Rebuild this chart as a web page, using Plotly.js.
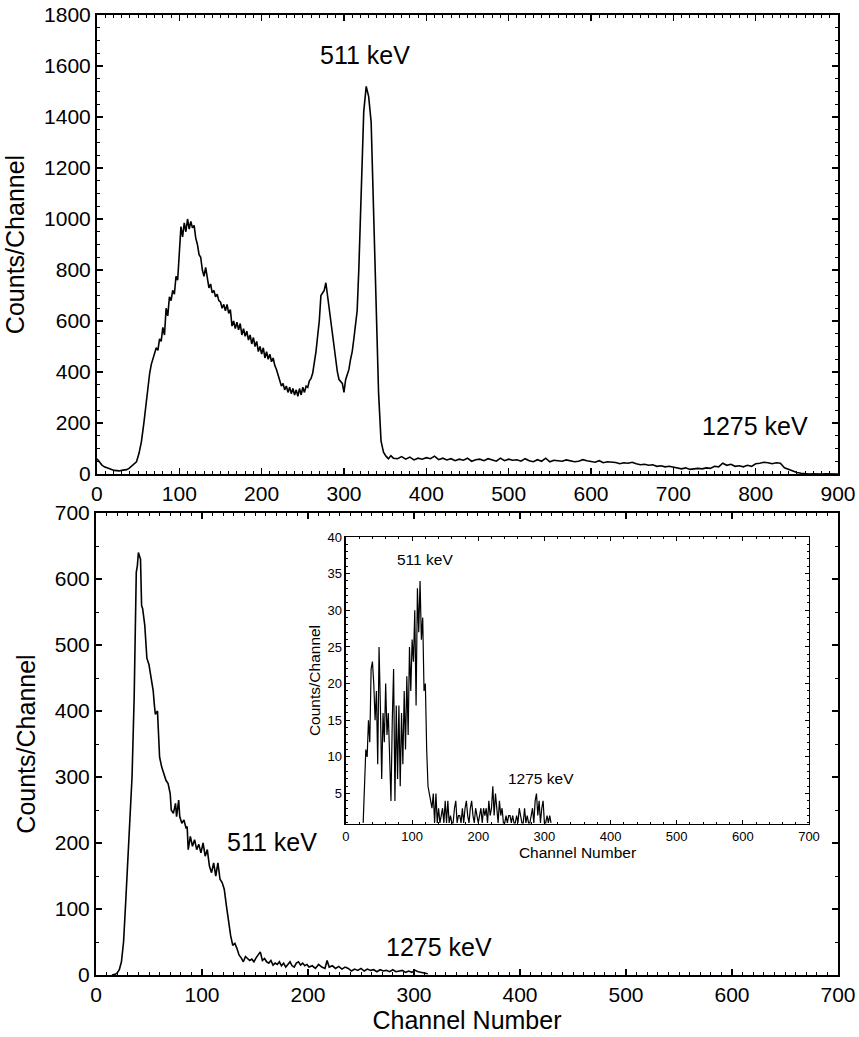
<!DOCTYPE html>
<html>
<head>
<meta charset="utf-8">
<script src="https://cdn.plot.ly/plotly-3.0.1.min.js"></script>
<style>
html,body{margin:0;padding:0;background:#fff;}
#chart{width:859px;height:1037px;}
</style>
</head>
<body>
<div id="chart"></div>
<script>
// ---- Top spectrum (full energy range) ----
const topChannels = [0,3,6,9,12,15,18,21,24,27,30,33,36,39,42,45,48,51,54,57,
60,62,64,66,68,70,72,74,76,78,80,82,84,86,88,90,92,94,96,98,100,102,104,106,108,110,112,114,116,118,120,122,124,126,128,130,132,134,136,138,140,142,144,146,148,150,152,154,156,158,160,162,164,166,168,170,172,174,176,178,180,182,184,186,188,190,192,194,196,198,200,202,204,206,208,210,212,214,216,218,220,222,224,226,228,230,232,234,236,238,240,242,244,246,248,250,252,254,256,258,260,262,264,266,268,270,272,274,276,278,280,282,284,286,288,290,292,294,296,298,300,302,304,306,308,310,312,314,316,318,
321,324,327,330,333,336,339,342,345,348,351,354,357,360,
365,370,375,380,385,390,395,400,405,410,415,420,425,430,435,440,445,450,455,460,465,470,475,480,485,490,495,500,505,510,515,520,525,530,535,540,545,550,555,560,565,570,575,580,585,590,595,600,605,610,615,620,625,630,635,640,645,650,655,660,665,670,675,680,685,690,695,700,705,710,715,720,725,730,735,740,745,750,755,760,765,770,775,780,785,790,795,800,805,810,815,820,825,830,835,840,845,850,855,860,865,870,875,880,885,890,895,900];
const topCounts = [60,45,35,28,24,20,16,14,13,12,14,15,17,22,30,38,48,80,127,200,
290,345,395,430,455,470,495,485,530,520,575,545,650,620,695,680,720,705,775,760,850,970,930,985,950,1000,960,990,965,975,925,900,860,850,800,775,810,760,730,745,710,720,695,705,680,675,650,665,640,665,630,645,580,600,570,595,565,590,545,570,540,560,525,545,510,535,500,520,480,500,470,495,455,480,450,470,440,455,425,410,385,370,345,355,330,345,320,340,315,335,310,330,305,335,310,340,320,345,340,365,375,395,430,480,540,600,700,710,720,750,700,650,610,560,500,440,400,370,360,355,320,370,390,410,450,480,530,580,640,800,
1150,1420,1520,1480,1380,1050,650,320,130,85,70,60,72,62,
60,68,58,66,55,62,58,64,60,70,56,62,55,60,52,58,54,62,50,56,58,52,60,55,50,62,52,58,54,56,50,60,52,48,56,50,62,48,54,52,50,55,52,48,50,56,52,50,46,52,44,48,46,45,40,44,42,46,40,36,38,34,36,30,32,28,30,26,22,20,24,18,20,22,20,24,22,30,28,42,34,38,30,32,28,34,30,40,42,46,44,40,44,42,24,18,10,6,3,1,0,1,0,0,1,0,0,0];

// ---- Bottom spectrum ----
const bottomChannels = [15,18,20,22,24,26,28,30,32,34,36,38,39,40,41,42,43,44,46,47,48,50,52,54,55,56,58,59,60,62,64,66,68,70,71,73,75,76,78,79,81,83,85,86,87,89,91,93,95,97,99,101,103,105,107,109,111,113,115,117,119,121,123,125,127,129,131,133,135,137,139,141,143,145,147,149,151,153,155,157,159,161,163,165,167,169,171,173,175,177,179,181,183,185,187,189,191,193,195,197,199,201,204,207,210,213,216,218,220,223,226,229,232,235,238,241,244,247,250,253,256,259,262,265,268,271,274,277,280,283,286,289,292,295,298,301,304,307,310,313];
const bottomCounts = [0,1,3,8,20,50,110,175,250,300,420,610,620,640,635,630,560,555,530,500,480,470,450,430,410,395,400,350,330,315,305,295,290,275,250,245,260,240,265,240,230,235,222,225,190,210,195,205,190,198,185,200,180,190,165,155,170,150,170,145,140,130,105,80,60,45,48,40,30,26,20,28,25,22,24,20,26,30,35,22,25,20,18,22,15,18,16,20,14,18,12,16,20,14,12,18,20,15,18,14,16,12,14,10,16,12,10,22,12,14,10,13,9,12,10,6,9,7,10,6,9,7,8,5,8,6,7,5,8,5,6,7,4,6,4,7,5,4,3,2];

// ---- Inset spectrum ----
const insetChannels = [26,28,30,32,34,36,38,40,42,44,46,48,50,52,54,56,58,60,62,64,66,68,70,72,74,76,78,80,82,84,86,88,90,92,94,96,98,100,102,104,106,108,110,112,114,116,118,120,122,124,126,128,130,132,134,136,138,140,142,144,146,148,150,152,154,156,158,160,162,164,166,168,170,172,174,176,178,180,182,184,186,188,190,192,194,196,198,200,202,204,206,208,210,212,214,216,218,220,222,224,226,228,230,232,234,236,238,240,242,244,246,248,250,252,254,256,258,260,262,264,266,268,270,272,274,276,278,280,282,284,286,288,290,292,294,296,298,300,302,304,306,308,310];
const insetCounts = [1,5,11,10,15,12,22,23,20,15,19,9,25,17,7,16,12,20,13,16,9,4,15,22,4,17,7,17,6,16,9,19,11,21,13,25,19,26,23,30,17,33,27,34,26,29,19,20,11,6,5,4,3,5,1,5,1,3,1,2,3,1,4,1,4,1,2,1,1,3,4,1,2,2,1,3,1,3,4,2,1,3,4,2,1,3,2,1,2,3,1,3,2,3,1,4,2,3,6,2,5,3,1,4,2,3,1,1,2,1,2,2,1,2,1,1,2,1,3,2,1,1,3,1,2,1,1,2,3,1,4,5,2,4,1,3,4,1,1,2,1,2,1];

// ---- Labels ----
const peakLabels = ["511 keV", "1275 keV"];
const yTitle = "Counts/Channel";
const xTitle = "Channel Number";

const FONT = "Liberation Sans, Arial, Helvetica, sans-serif";

const traces = [
  {x: topChannels, y: topCounts, xaxis: 'x', yaxis: 'y', type: 'scatter', mode: 'lines',
   line: {color: '#000', width: 1.6}, hoverinfo: 'skip'},
  {x: bottomChannels, y: bottomCounts, xaxis: 'x2', yaxis: 'y2', type: 'scatter', mode: 'lines',
   line: {color: '#000', width: 1.6}, hoverinfo: 'skip'},
  {x: insetChannels, y: insetCounts, xaxis: 'x3', yaxis: 'y3', type: 'scatter', mode: 'lines',
   line: {color: '#000', width: 1.2}, hoverinfo: 'skip'}
];

function ax(opts) {
  return Object.assign({
    showline: true, linecolor: '#000', linewidth: 2, mirror: 'ticks',
    ticks: 'inside', ticklen: 6, tickwidth: 1.5, tickcolor: '#000',
    showgrid: false, zeroline: false, fixedrange: true,
    tickfont: {family: FONT, size: 21, color: '#000'}
  }, opts);
}

const layout = {
  width: 859, height: 1037,
  margin: {l: 96, r: 21, t: 15, b: 62},
  paper_bgcolor: '#fff', plot_bgcolor: '#fff',
  showlegend: false,
  font: {family: FONT, color: '#000'},
  xaxis: ax({domain: [0.0013, 1], anchor: 'y', range: [0, 900], dtick: 100, tick0: 0,
    minor: {dtick: 10, ticks: 'inside', ticklen: 3, tickwidth: 1, tickcolor: '#000'}}),
  yaxis: ax({domain: [0.5219, 1], anchor: 'x', range: [0, 1800], dtick: 200, tick0: 0,
    minor: {dtick: 50, ticks: 'inside', ticklen: 3, tickwidth: 1, tickcolor: '#000'},
    title: {text: yTitle, font: {family: FONT, size: 25, color: '#000'}, standoff: 12}}),
  xaxis2: ax({domain: [0, 1], anchor: 'y2', range: [0, 700], dtick: 100, tick0: 0,
    minor: {dtick: 10, ticks: 'inside', ticklen: 3, tickwidth: 1, tickcolor: '#000'},
    title: {text: xTitle, font: {family: FONT, size: 25, color: '#000'}, standoff: 4}}),
  yaxis2: ax({domain: [0, 0.48125], anchor: 'x2', range: [0, 700], dtick: 100, tick0: 0,
    minor: {dtick: 50, ticks: 'inside', ticklen: 3, tickwidth: 1, tickcolor: '#000'},
    title: {text: yTitle, font: {family: FONT, size: 25, color: '#000'}, standoff: 12}}),
  xaxis3: ax({domain: [0.3369, 0.9609], anchor: 'y3', range: [0, 700], dtick: 100, tick0: 0,
    linewidth: 1.5, ticklen: 4, tickwidth: 1,
    tickfont: {family: FONT, size: 13, color: '#000'},
    minor: {dtick: 20, ticks: 'inside', ticklen: 2, tickwidth: 1, tickcolor: '#000'},
    title: {text: xTitle, font: {family: FONT, size: 15.5, color: '#000'}, standoff: 3}}),
  yaxis3: ax({domain: [0.1573, 0.45625], anchor: 'x3', range: [0.85, 40], dtick: 5, tick0: 0,
    linewidth: 1.5, ticklen: 4, tickwidth: 1,
    tickfont: {family: FONT, size: 13, color: '#000'},
    minor: {dtick: 1, ticks: 'inside', ticklen: 2, tickwidth: 1, tickcolor: '#000'},
    title: {text: yTitle, font: {family: FONT, size: 15.5, color: '#000'}, standoff: 3}}),
  annotations: [
    {xref: 'x', yref: 'y', x: 325, y: 1645, text: peakLabels[0], showarrow: false,
     font: {family: FONT, size: 25, color: '#000'}},
    {xref: 'x', yref: 'y', x: 799, y: 188, text: peakLabels[1], showarrow: false,
     font: {family: FONT, size: 25, color: '#000'}},
    {xref: 'x2', yref: 'y2', x: 166, y: 201, text: peakLabels[0], showarrow: false,
     font: {family: FONT, size: 25, color: '#000'}},
    {xref: 'x2', yref: 'y2', x: 324, y: 42, text: peakLabels[1], showarrow: false,
     font: {family: FONT, size: 25, color: '#000'}},
    {xref: 'x3', yref: 'y3', x: 119, y: 36.9, text: peakLabels[0], showarrow: false,
     font: {family: FONT, size: 15.5, color: '#000'}},
    {xref: 'x3', yref: 'y3', x: 295, y: 7, text: peakLabels[1], showarrow: false,
     font: {family: FONT, size: 15.5, color: '#000'}}
  ]
};

Plotly.newPlot('chart', traces, layout, {staticPlot: true, displayModeBar: false});
</script>
</body>
</html>
